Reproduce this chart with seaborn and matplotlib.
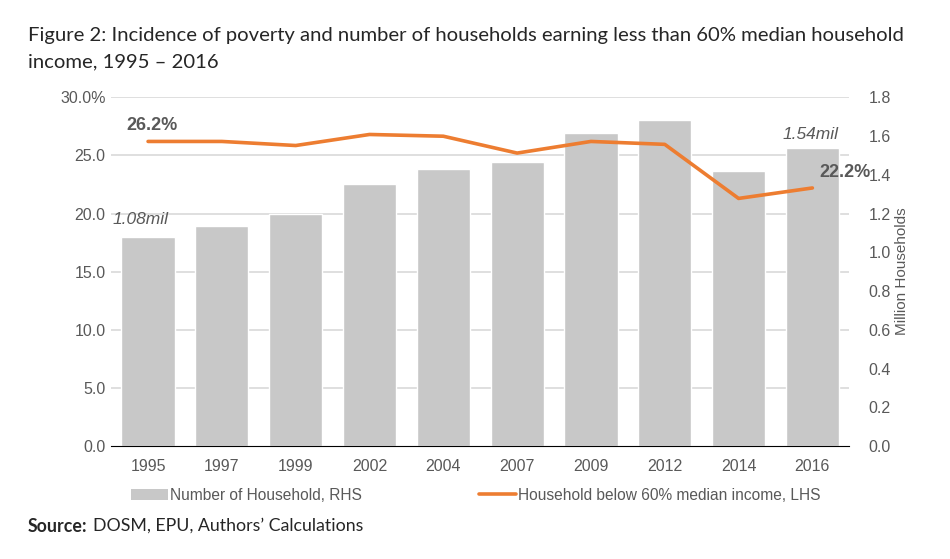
import numpy as np
import pandas as pd
import seaborn as sns
import matplotlib.pyplot as plt
from matplotlib.patches import Patch
from matplotlib.lines import Line2D

years = ["1995", "1997", "1999", "2002", "2004", "2007", "2009", "2012", "2014", "2016"]
households = [1.08, 1.135, 1.20, 1.355, 1.43, 1.465, 1.615, 1.685, 1.42, 1.54]   # million, RHS
poverty = [26.2, 26.2, 25.85, 26.8, 26.65, 25.2, 26.2, 25.95, 21.3, 22.2]        # %, LHS
left_ticks = [0, 5, 10, 15, 20, 25, 30]
left_labels = ["0.0", "5.0", "10.0", "15.0", "20.0", "25.0", "30.0%"]
right_ticks = [0, 0.2, 0.4, 0.6, 0.8, 1.0, 1.2, 1.4, 1.6, 1.8]

df = pd.DataFrame({"year": years, "hh": households, "pov": poverty})

sns.set_style("white")
plt.rcParams["font.family"] = ["Liberation Sans", "DejaVu Sans"]
grey_txt = "#595959"
bar_col = "#C8C8C8"
line_col = "#ED7D31"

fig = plt.figure(figsize=(9.5, 5.59), dpi=100)
ax = fig.add_axes([0.117, 0.202, 0.777, 0.624])

# bars on the primary axes (shown on the right)
sns.barplot(data=df, x="year", y="hh", color=bar_col, saturation=1, width=0.72, ax=ax, zorder=2)
ax.set_ylim(0, 1.8)
ax.set_xlim(-0.5, 9.5)
for v in np.arange(0.3, 1.81, 0.3):
    ax.axhline(v, color="#D9D9D9", lw=1.2, zorder=0)
ax.set_xlabel("")
ax.tick_params(axis="x", which="major", length=0, labelsize=11.5, labelcolor=grey_txt, pad=9)
ax.set_xticks(np.arange(-0.5, 10, 1), minor=True)
ax.tick_params(axis="x", which="minor", length=6, width=1, color="#000000")
for s in ["top", "left", "right"]:
    ax.spines[s].set_visible(False)
ax.spines["bottom"].set_color("#000000")

# line on twin axes (shown on the left)
ax2 = ax.twinx()
sns.lineplot(data=df, x="year", y="pov", color=line_col, lw=2.6, sort=False, ax=ax2)
ax2.set_ylim(0, 30)
ax2.yaxis.tick_left()
ax2.set_yticks(left_ticks, left_labels)
ax2.set_ylabel("")
ax2.tick_params(axis="y", length=0, labelsize=11.5, labelcolor=grey_txt, pad=4)
for s in ["top", "left", "right", "bottom"]:
    ax2.spines[s].set_visible(False)

# right axis for the bars (after twinx, which resets it)
ax.yaxis.tick_right()
ax.set_yticks(right_ticks, [f"{v:.1f}" for v in right_ticks])
ax.yaxis.set_label_position("right")
ax.set_ylabel("Million Households", color=grey_txt, fontsize=11, labelpad=3)
ax.tick_params(axis="y", length=0, labelsize=11.5, labelcolor=grey_txt, pad=14)

# data labels
ax2.text(0.05, 27.6, f"{poverty[0]:.1f}%", ha="center", va="center", fontsize=13,
         fontweight="bold", color=grey_txt)
ax2.text(9.44, 23.55, f"{poverty[-1]:.1f}%", ha="center", va="center", fontsize=13,
         fontweight="bold", color=grey_txt)
ax.text(-0.1, 1.17, f"{households[0]:.2f}mil", ha="center", va="center", fontsize=12.5,
        style="italic", color=grey_txt)
ax.text(8.98, 1.61, f"{households[-1]:.2f}mil", ha="center", va="center", fontsize=12.5,
        style="italic", color=grey_txt)

# legend
handles = [Patch(facecolor=bar_col, edgecolor="none"), Line2D([], [], color=line_col, lw=2.6)]
fig.legend(handles, ["Number of Household, RHS", "Household below 60% median income, LHS"],
           loc="center left", bbox_to_anchor=(0.1228, 1 - 495 / 559), ncol=2, frameon=False,
           fontsize=11.2, handlelength=2.4, handletextpad=0.1, columnspacing=7.55,
           labelcolor=grey_txt)

# title and source
title_font = ["Lato", "DejaVu Sans"]
fig.text(28 / 950, 1 - 35 / 559,
         "Figure 2: Incidence of poverty and number of households earning less than 60% median household",
         fontsize=14.6, family=title_font, va="center", ha="left")
fig.text(28 / 950, 1 - 62 / 559, "income, 1995 \u2013 2016",
         fontsize=14.6, family=title_font, va="center", ha="left")
fig.text(28 / 950, 1 - 526 / 559, "Source:", fontsize=12.8, fontweight="bold",
         family=title_font, va="center", ha="left")
fig.text(93 / 950, 1 - 526 / 559, "DOSM, EPU, Authors\u2019 Calculations", fontsize=12.8,
         family=title_font, va="center", ha="left")

plt.savefig("out.png", dpi=100)
